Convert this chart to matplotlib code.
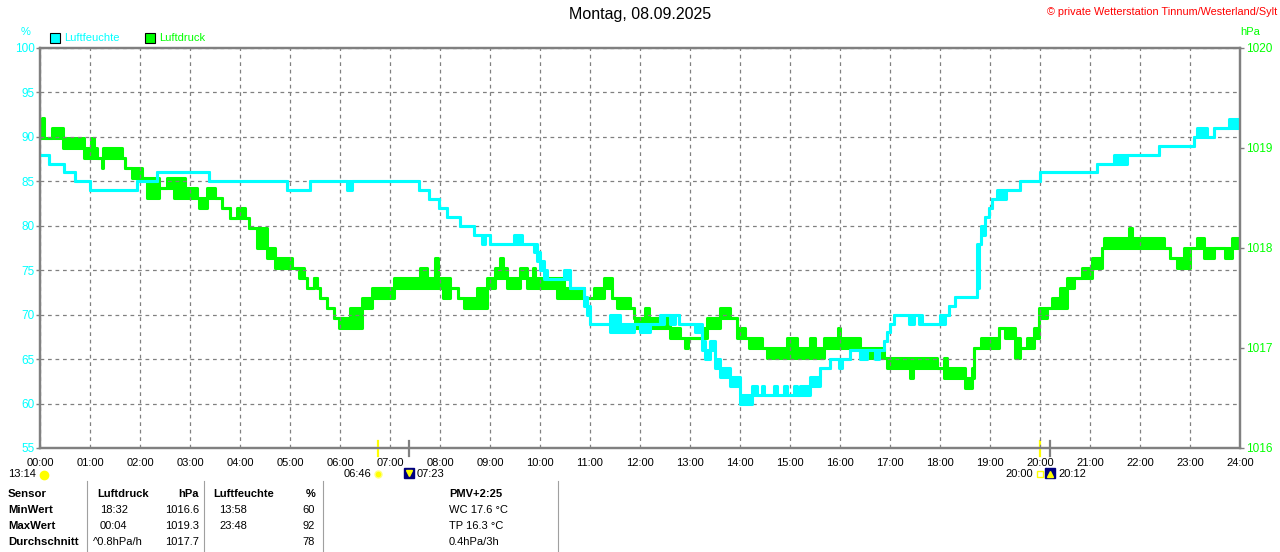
import matplotlib
matplotlib.use("Agg")
import matplotlib.pyplot as plt
import numpy as np
from matplotlib.patches import Rectangle
from matplotlib.transforms import blended_transform_factory

plt.rcParams["font.family"] = ["Liberation Sans", "DejaVu Sans"]

CYAN = "#00ffff"
GREEN = "#00ff00"
GRAY = "#808080"
YELLOW = "#ffff00"
NAVY = "#000080"

hour_labels = [f"{h:02d}:00" for h in range(25)]
humidity_ticks = [55, 60, 65, 70, 75, 80, 85, 90, 95, 100]
pressure_ticks = [1016, 1017, 1018, 1019, 1020]

# Luftfeuchte (%): step start (hour), low / high reading (high > low where it flickers)
humidity_start = [0.00, 0.17, 0.47, 0.70, 1.00, 1.93, 2.33, 3.37, 4.93, 5.40,
                  6.13, 6.23, 7.57, 7.77, 7.97, 8.13, 8.40, 8.67, 8.83, 8.90,
                  9.00, 9.47, 9.63, 9.87, 9.93, 10.00, 10.07, 10.13, 10.47, 10.60,
                  10.87, 10.93, 11.00, 11.40, 11.60, 11.87, 12.00, 12.20, 12.40, 12.47,
                  12.60, 12.70, 12.77, 13.10, 13.23, 13.30, 13.40, 13.50, 13.60, 13.80,
                  14.00, 14.23, 14.33, 14.43, 14.47, 14.67, 14.73, 14.87, 14.93, 15.07,
                  15.13, 15.20, 15.40, 15.60, 15.80, 15.97, 16.03, 16.20, 16.40, 16.53,
                  16.70, 16.77, 16.87, 16.93, 17.00, 17.07, 17.37, 17.47, 17.57, 17.63,
                  18.00, 18.10, 18.17, 18.30, 18.73, 18.77, 18.83, 18.90, 18.97, 19.03,
                  19.13, 19.33, 19.60, 20.00, 21.13, 21.47, 21.73, 22.37, 23.07, 23.13,
                  23.33, 23.47, 23.77]
humidity_low = [88, 87, 86, 85, 84, 85, 86, 85, 84, 85,
                84, 85, 84, 83, 82, 81, 80, 79, 78, 79,
                78, 78, 78, 77, 76, 75, 74, 74, 74, 73,
                71, 70, 69, 68, 68, 69, 68, 69, 69, 70,
                69, 70, 69, 68, 66, 65, 66, 64, 63, 62,
                60, 61, 61, 61, 61, 61, 61, 61, 61, 61,
                61, 61, 62, 64, 65, 64, 65, 66, 65, 66,
                65, 66, 67, 68, 69, 70, 69, 70, 69, 69,
                69, 70, 71, 72, 73, 78, 79, 81, 82, 83,
                83, 84, 85, 86, 87, 87, 88, 89, 90, 90,
                90, 91, 91]
humidity_high = [88, 87, 86, 85, 84, 85, 86, 85, 84, 85,
                 85, 85, 84, 83, 82, 81, 80, 79, 79, 79,
                 78, 79, 78, 78, 77, 76, 75, 74, 75, 73,
                 72, 71, 69, 70, 69, 69, 69, 69, 70, 70,
                 70, 70, 69, 69, 67, 66, 67, 65, 64, 63,
                 61, 62, 61, 62, 61, 62, 61, 62, 61, 62,
                 61, 62, 63, 64, 65, 65, 65, 66, 66, 66,
                 66, 66, 67, 68, 69, 70, 70, 70, 70, 69,
                 70, 70, 71, 72, 78, 78, 80, 81, 82, 83,
                 84, 84, 85, 86, 87, 88, 88, 89, 90, 91,
                 90, 91, 92]

# Luftdruck (hPa): step start (hour), low / high reading
pressure_start = [0.00, 0.03, 0.08, 0.23, 0.45, 0.87, 1.02, 1.07, 1.10, 1.13,
                  1.23, 1.26, 1.63, 1.70, 1.83, 2.03, 2.13, 2.37, 2.53, 2.67,
                  2.90, 3.13, 3.17, 3.33, 3.50, 3.63, 3.80, 3.93, 4.10, 4.17,
                  4.33, 4.53, 4.70, 5.03, 5.17, 5.27, 5.33, 5.47, 5.53, 5.60,
                  5.73, 5.87, 5.97, 6.20, 6.43, 6.63, 7.07, 7.60, 7.73, 7.90,
                  7.95, 8.05, 8.20, 8.37, 8.47, 8.73, 8.93, 9.10, 9.20, 9.25,
                  9.33, 9.60, 9.73, 9.85, 9.90, 10.33, 10.47, 10.87, 11.07, 11.27,
                  11.43, 11.53, 11.80, 11.87, 11.90, 12.10, 12.17, 12.60, 12.80, 12.90,
                  12.95, 13.23, 13.33, 13.60, 13.80, 13.93, 14.10, 14.17, 14.43, 14.53,
                  14.93, 15.13, 15.40, 15.50, 15.67, 15.95, 16.00, 16.40, 16.87, 16.93,
                  17.40, 17.45, 17.93, 18.07, 18.13, 18.50, 18.63, 18.68, 18.83, 19.17,
                  19.30, 19.50, 19.60, 19.73, 19.87, 19.97, 20.13, 20.23, 20.40, 20.53,
                  20.67, 20.83, 21.03, 21.23, 21.27, 21.77, 21.83, 22.47, 22.60, 22.73,
                  22.87, 23.00, 23.13, 23.27, 23.47, 23.70, 23.83]
pressure_low = [1019.1, 1019.1, 1019.1, 1019.1, 1019.0, 1018.9, 1018.9, 1019.0, 1018.9, 1018.9,
                1018.8, 1018.9, 1018.9, 1018.8, 1018.7, 1018.7, 1018.5, 1018.6, 1018.6, 1018.5,
                1018.5, 1018.5, 1018.4, 1018.5, 1018.5, 1018.4, 1018.3, 1018.3, 1018.3, 1018.2,
                1018.0, 1017.9, 1017.8, 1017.8, 1017.7, 1017.7, 1017.6, 1017.7, 1017.6, 1017.5,
                1017.4, 1017.3, 1017.2, 1017.2, 1017.4, 1017.5, 1017.6, 1017.6, 1017.6, 1017.6,
                1017.6, 1017.5, 1017.6, 1017.5, 1017.4, 1017.4, 1017.6, 1017.7, 1017.7, 1017.7,
                1017.6, 1017.7, 1017.6, 1017.6, 1017.6, 1017.5, 1017.5, 1017.5, 1017.5, 1017.6,
                1017.5, 1017.4, 1017.4, 1017.3, 1017.2, 1017.2, 1017.2, 1017.1, 1017.1, 1017.0,
                1017.1, 1017.1, 1017.2, 1017.3, 1017.3, 1017.1, 1017.1, 1017.0, 1017.0, 1016.9,
                1016.9, 1016.9, 1016.9, 1016.9, 1017.0, 1017.0, 1017.0, 1016.9, 1016.9, 1016.8,
                1016.7, 1016.8, 1016.8, 1016.7, 1016.7, 1016.6, 1016.7, 1017.0, 1017.0, 1017.2,
                1017.1, 1016.9, 1017.0, 1017.0, 1017.1, 1017.3, 1017.4, 1017.4, 1017.4, 1017.6,
                1017.7, 1017.7, 1017.8, 1018.0, 1018.0, 1018.0, 1018.0, 1018.0, 1017.9, 1017.8,
                1017.8, 1018.0, 1018.0, 1017.9, 1018.0, 1017.9, 1018.0]
pressure_high = [1019.1, 1019.3, 1019.1, 1019.2, 1019.1, 1019.0, 1019.1, 1019.0, 1019.0, 1018.9,
                 1018.9, 1019.0, 1018.9, 1018.8, 1018.8, 1018.7, 1018.7, 1018.6, 1018.7, 1018.7,
                 1018.6, 1018.5, 1018.5, 1018.6, 1018.5, 1018.4, 1018.3, 1018.4, 1018.3, 1018.2,
                 1018.2, 1018.0, 1017.9, 1017.8, 1017.8, 1017.7, 1017.6, 1017.7, 1017.6, 1017.5,
                 1017.4, 1017.3, 1017.3, 1017.4, 1017.5, 1017.6, 1017.7, 1017.8, 1017.7, 1017.9,
                 1017.7, 1017.7, 1017.6, 1017.5, 1017.5, 1017.6, 1017.7, 1017.8, 1017.9, 1017.8,
                 1017.7, 1017.8, 1017.7, 1017.8, 1017.7, 1017.7, 1017.6, 1017.5, 1017.6, 1017.7,
                 1017.5, 1017.5, 1017.4, 1017.3, 1017.3, 1017.4, 1017.3, 1017.2, 1017.1, 1017.1,
                 1017.1, 1017.2, 1017.3, 1017.4, 1017.3, 1017.2, 1017.1, 1017.1, 1017.0, 1017.0,
                 1017.1, 1017.0, 1017.1, 1017.0, 1017.1, 1017.2, 1017.1, 1017.0, 1016.9, 1016.9,
                 1016.9, 1016.9, 1016.8, 1016.9, 1016.8, 1016.7, 1016.8, 1017.0, 1017.1, 1017.2,
                 1017.2, 1017.1, 1017.0, 1017.1, 1017.2, 1017.4, 1017.4, 1017.5, 1017.6, 1017.7,
                 1017.7, 1017.8, 1017.9, 1018.0, 1018.1, 1018.2, 1018.1, 1018.0, 1017.9, 1017.9,
                 1018.0, 1018.0, 1018.1, 1018.0, 1018.0, 1018.0, 1018.1]

# sun / moon events below the time axis
daylight_length = "13:14"
sun_rise, sun_set = "06:46", "20:00"
moon_set, moon_rise = "07:23", "20:12"

# summary table
table_rows = ["Sensor", "MinWert", "MaxWert", "Durchschnitt"]
pressure_times = ["Luftdruck", "18:32", "00:04", "^0.8hPa/h"]
pressure_values = ["hPa", "1016.6", "1019.3", "1017.7"]
humidity_times = ["Luftfeuchte", "13:58", "23:48", ""]
humidity_values = ["%", "60", "92", "78"]
extra_info = ["PMV+2:25", "WC 17.6 °C", "TP 16.3 °C", "0.4hPa/3h"]


def to_hours(hhmm):
    h, m = hhmm.split(":")
    return int(h) + int(m) / 60


def step_arrays(start, low, high):
    t = np.append(start, 24.0)
    return t, np.append(low, low[-1]), np.append(high, high[-1])


W, H = 1280, 552
fig = plt.figure(figsize=(W / 100, H / 100), dpi=100)
fig.patch.set_facecolor("white")

ax = fig.add_axes([40 / W, 1 - 448 / H, 1200 / W, 400 / H])
ax2 = ax.twinx()
ax.set_zorder(ax2.get_zorder() + 1)
ax.patch.set_visible(False)

# pressure (behind)
t, lo, hi = step_arrays(pressure_start, pressure_low, pressure_high)
ax2.fill_between(t, lo, hi, step="post", color=GREEN, lw=0)
ax2.step(t, lo, where="post", color=GREEN, lw=2.2)
ax2.step(t, hi, where="post", color=GREEN, lw=2.2)

# humidity (front)
t, lo, hi = step_arrays(humidity_start, humidity_low, humidity_high)
ax.fill_between(t, lo, hi, step="post", color=CYAN, lw=0)
ax.step(t, lo, where="post", color=CYAN, lw=2.2)
ax.step(t, hi, where="post", color=CYAN, lw=2.2)

ax.set_xlim(0, 24)
ax.set_ylim(55, 100)
ax2.set_ylim(1016, 1020)

ax.set_xticks(range(25))
ax.set_xticklabels(hour_labels, fontsize=8)
ax.set_yticks(humidity_ticks)
ax.set_yticklabels([str(v) for v in humidity_ticks], fontsize=8.5)
ax2.set_yticks(pressure_ticks)
ax2.set_yticklabels([str(v) for v in pressure_ticks], fontsize=8.5)

ax.tick_params(axis="x", length=0, pad=7, labelcolor="black")
ax.tick_params(axis="y", length=3, width=1, color=GRAY, labelcolor=CYAN, pad=1)
ax2.tick_params(axis="y", length=3, width=1, color=GRAY, labelcolor=GREEN, pad=1)

ax.grid(True, color=GRAY, linestyle=(0, (3, 3)), linewidth=0.9)
for a in (ax, ax2):
    for s in a.spines.values():
        s.set_color(GRAY)
        s.set_linewidth(1.6)

# overlay in pixel coordinates for all the surrounding text
ov = fig.add_axes([0, 0, 1, 1])
ov.set_xlim(0, W)
ov.set_ylim(H, 0)
ov.axis("off")
tb = blended_transform_factory(ax.transData, ov.transData)

ov.text(640, 15, "Montag, 08.09.2025", ha="center", va="center", fontsize=11.5)
ov.text(1277, 12, "© private Wetterstation Tinnum/Westerland/Sylt", ha="right", va="center",
        fontsize=7.8, color="#ff0000")
ov.text(26, 32, "%", ha="center", va="center", fontsize=8, color=CYAN)
ov.text(1250, 32, "hPa", ha="center", va="center", fontsize=8, color=GREEN)

ov.add_patch(Rectangle((50, 33), 10, 10, facecolor=CYAN, edgecolor="black", lw=0.8))
ov.text(64, 38, "Luftfeuchte", ha="left", va="center", fontsize=8, color=CYAN)
ov.add_patch(Rectangle((145, 33), 10, 10, facecolor=GREEN, edgecolor="black", lw=0.8))
ov.text(159, 38, "Luftdruck", ha="left", va="center", fontsize=8, color=GREEN)

# sun / moon markers on the time axis
for ev, col in ((sun_rise, YELLOW), (sun_set, YELLOW), (moon_set, GRAY), (moon_rise, GRAY)):
    h = to_hours(ev)
    ov.plot([h, h], [441, 456], transform=tb, color=col, lw=1.6, clip_on=False)


def event_label(hhmm, dx):
    ov.annotate(hhmm, xy=(to_hours(hhmm), 474), xycoords=tb, xytext=(dx, 0),
                textcoords="offset pixels", ha="right" if dx < 0 else "left",
                va="center", fontsize=8)


ov.text(8, 474, daylight_length, ha="left", va="center", fontsize=8)
ov.plot([44], [475], marker="o", ms=6, color=YELLOW, mec=YELLOW, clip_on=False)

h = to_hours(sun_rise)
ov.plot([h], [474], transform=tb, marker="o", ms=5, color=YELLOW, mec="#ffff80", clip_on=False)
event_label(sun_rise, -7)
h = to_hours(moon_set)
ov.plot([h], [473], transform=tb, marker="s", ms=7, color=NAVY, clip_on=False)
ov.plot([h], [473], transform=tb, marker="v", ms=4, color=YELLOW, clip_on=False)
event_label(moon_set, 7)

h = to_hours(sun_set)
ov.plot([h], [474], transform=tb, marker="s", ms=5, mfc="none", mec=YELLOW, mew=1, clip_on=False)
event_label(sun_set, -7)
h = to_hours(moon_rise)
ov.plot([h], [473], transform=tb, marker="s", ms=7, color=NAVY, clip_on=False)
ov.plot([h], [474], transform=tb, marker="^", ms=4, color=YELLOW, clip_on=False)
event_label(moon_rise, 8)

# summary table
row_y = [494, 510, 526, 542]
for i, y in enumerate(row_y):
    head = "bold" if i == 0 else "normal"
    ov.text(8, y, table_rows[i], ha="left", va="center", fontsize=8.2, fontweight="bold")
    ov.text(97 if i == 0 else (93 if i == 3 else 100), y, pressure_times[i], ha="left",
            va="center", fontsize=8, fontweight=head)
    ov.text(199, y, pressure_values[i], ha="right", va="center", fontsize=8, fontweight=head)
    ov.text(213 if i == 0 else 219, y, humidity_times[i], ha="left", va="center",
            fontsize=8, fontweight=head)
    ov.text(315, y, humidity_values[i], ha="right", va="center", fontsize=8, fontweight=head)
    ov.text(449, y, extra_info[i], ha="left", va="center", fontsize=8, fontweight=head)
for x in (87, 204, 323, 558):
    ov.plot([x, x], [481, 552], color="#a0a0a0", lw=0.8, clip_on=False)

fig.savefig("out.png", dpi=100, facecolor="white")
